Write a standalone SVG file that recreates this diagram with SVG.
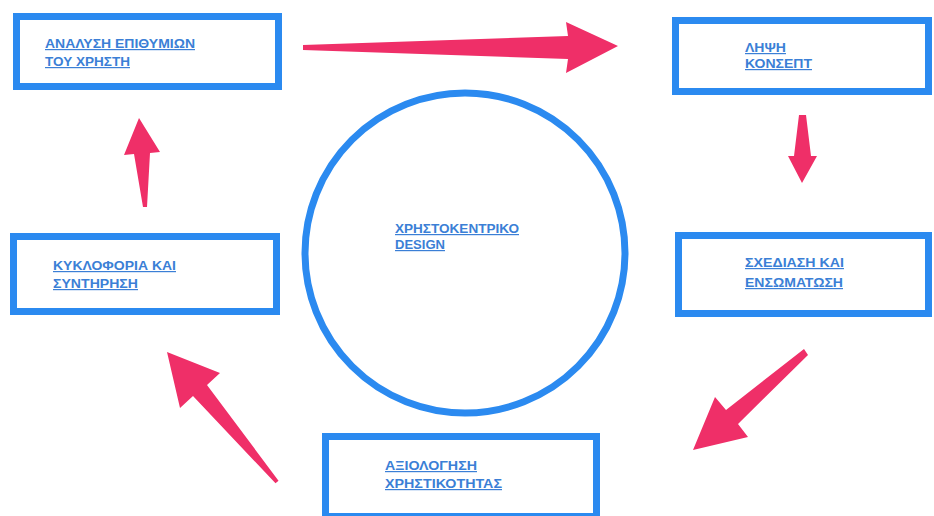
<svg xmlns="http://www.w3.org/2000/svg" width="934" height="516" viewBox="0 0 934 516">
<style>
.box{fill:#ffffff;stroke:#2b8af0;stroke-width:7}
.lbl{font-family:"Liberation Sans",Arial,sans-serif;font-size:12px;font-weight:bold;fill:#3b7fd6;text-decoration:underline}
.arr{fill:#ef2f68}
</style>
<rect width="934" height="516" fill="#ffffff"/>
<g id="center">
<circle cx="465" cy="253" r="160" fill="#ffffff" stroke="#2b8af0" stroke-width="7"/>
<text class="lbl"><tspan x="395" y="233" textLength="124" lengthAdjust="spacingAndGlyphs">ΧΡΗΣΤΟΚΕΝΤΡΙΚΟ</tspan><tspan x="395" y="249" textLength="50" lengthAdjust="spacingAndGlyphs">DESIGN</tspan></text>
</g>
<g id="n1">
<rect class="box" x="16.5" y="16.5" width="262" height="70"/>
<text class="lbl"><tspan x="45" y="48" textLength="150" lengthAdjust="spacingAndGlyphs">ΑΝΑΛΥΣΗ ΕΠΙΘΥΜΙΩΝ</tspan><tspan x="45" y="66" textLength="85" lengthAdjust="spacingAndGlyphs">ΤΟΥ ΧΡΗΣΤΗ</tspan></text>
</g>
<g id="n2">
<rect class="box" x="675.5" y="20.5" width="253" height="71"/>
<text class="lbl"><tspan x="745" y="52" textLength="41" lengthAdjust="spacingAndGlyphs">ΛΗΨΗ</tspan><tspan x="745" y="68" textLength="67" lengthAdjust="spacingAndGlyphs">ΚΟΝΣΕΠΤ</tspan></text>
</g>
<g id="n3">
<rect class="box" x="678.5" y="235.5" width="250" height="78"/>
<text class="lbl"><tspan x="745" y="267" textLength="99" lengthAdjust="spacingAndGlyphs">ΣΧΕΔΙΑΣΗ ΚΑΙ</tspan><tspan x="745" y="287" textLength="98" lengthAdjust="spacingAndGlyphs">ΕΝΣΩΜΑΤΩΣΗ</tspan></text>
</g>
<g id="n4">
<rect class="box" x="325.5" y="436.5" width="271" height="80"/>
<text class="lbl"><tspan x="385" y="470" textLength="92" lengthAdjust="spacingAndGlyphs">ΑΞΙΟΛΟΓΗΣΗ</tspan><tspan x="385" y="488" textLength="117" lengthAdjust="spacingAndGlyphs">ΧΡΗΣΤΙΚΟΤΗΤΑΣ</tspan></text>
</g>
<g id="n5">
<rect class="box" x="13.5" y="236.5" width="263" height="75"/>
<text class="lbl"><tspan x="53" y="270" textLength="123" lengthAdjust="spacingAndGlyphs">ΚΥΚΛΟΦΟΡΙΑ ΚΑΙ</tspan><tspan x="53" y="288" textLength="85" lengthAdjust="spacingAndGlyphs">ΣΥΝΤΗΡΗΣΗ</tspan></text>
</g>
<g id="connectors">
<polygon class="arr" points="303,45 568,36 566,22 618,46 566,73 568,59 303,50"/>
<polygon class="arr" points="799,115 806,115 811,156 817,156 802,183 788,156 794,156"/>
<polygon class="arr" points="804,349 808,355 738,424 748,437 693,450 715,397 726,410"/>
<polygon class="arr" points="278.5,480.7 275.5,483.3 193,396 180,408 167,352 220,373 207,385"/>
<polygon class="arr" points="143,207 147,207 150,153 160,152 139,118 124,155 134,154"/>
</g>
</svg>
